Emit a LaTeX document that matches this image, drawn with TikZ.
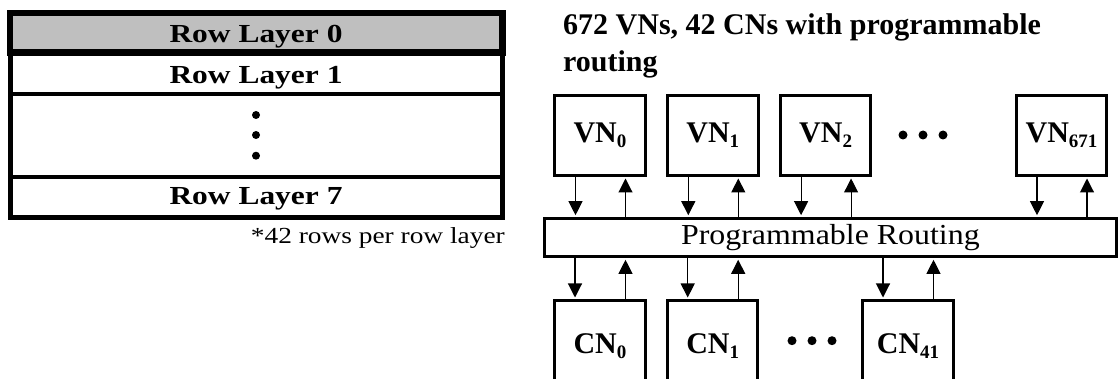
\documentclass[tikz,border=0pt]{standalone}
\usepackage{fontspec}
\setmainfont{Liberation Serif}
\usetikzlibrary{arrows.meta,calc}

% lowered index digits for node labels
\newcommand{\nsub}[1]{\raisebox{-5pt}{\fontsize{19}{19}\selectfont #1}}

\begin{document}
\begin{tikzpicture}[x=1pt,y=-1pt,
  box/.style={draw,line width=3pt,minimum width=90.4pt,inner sep=0pt,
    font=\fontsize{30}{30}\selectfont\bfseries},
  vnbox/.style={box,minimum height=80pt},
  cnbox/.style={box,minimum height=91pt},
  arr/.style={line width=1.1pt,shorten >=1.5pt,-{Triangle[length=14pt,width=14pt]}},
  blob/.style={circle,fill,inner sep=0pt,minimum size=9pt},
  rowtxt/.style={inner sep=0pt,anchor=base,font=\fontsize{26}{26}\selectfont\bfseries},
]
\clip (0,0) rectangle (1120,379);

% ---- row-layer stack ----
\fill[gray!50] (10,13) rectangle (502.5,52.5);
\draw[line width=5pt] (10.8,13) rectangle (502.5,217.5);
\draw[line width=4pt] (10.8,94.5) -- (502.5,94.5);
\draw[line width=4pt] (10.8,177) -- (502.5,177);
\draw[line width=6.5pt] (10,13) rectangle (502.5,52.5);

\node[rowtxt] (r0) at (256,42.7) {\scalebox{1.21}[1]{Row Layer 0}};
\node[rowtxt] (r1) at (256,84) {\scalebox{1.21}[1]{Row Layer 1}};
\node[rowtxt] (r7) at (256,205) {\scalebox{1.21}[1]{Row Layer 7}};
\node[blob,minimum size=8pt] (rd1) at (256,115) {};
\node[blob,minimum size=8pt] (rd2) at (256,135) {};
\node[blob,minimum size=8pt] (rd3) at (256,155.7) {};

\node[anchor=base east,inner sep=0pt,font=\fontsize{23}{23}\selectfont] (note)
  at (505,243.3) {\scalebox{1.19}[1]{*42 rows per row layer}};

% ---- routing network ----
\node[anchor=base west,inner sep=0pt,font=\fontsize{30}{30}\selectfont\bfseries] (t1)
  at (563,35) {672 VNs, 42 CNs with programmable};
\node[anchor=base west,inner sep=0pt,font=\fontsize{30}{30}\selectfont\bfseries] (t2)
  at (563,71.7) {routing};

\node[vnbox] (vn0)   at (600,135.5)   {VN\nsub{0}};
\node[vnbox] (vn1)   at (712.8,135.5) {VN\nsub{1}};
\node[vnbox] (vn2)   at (825.6,135.5) {VN\nsub{2}};
\node[vnbox] (vn671) at (1061.5,135.5) {VN\nsub{671}};
\node[blob] (vd1) at (903,135) {};
\node[blob] (vd2) at (923,135) {};
\node[blob] (vd3) at (943,135) {};

\node[draw,line width=3pt,minimum width=571.8pt,minimum height=38.6pt,inner sep=0pt,
  font=\fontsize{29}{29}\selectfont] (bar) at (830.4,237.5)
  {\raisebox{-3pt}{\scalebox{1.1}[1]{Programmable Routing}}};

\node[cnbox] (cn0)  at (600,346)   {CN\nsub{0}};
\node[cnbox] (cn1)  at (712.7,346) {CN\nsub{1}};
\node[cnbox] (cn41) at (908,346)   {CN\nsub{41}};
\node[blob] (cd1) at (792,340.7) {};
\node[blob] (cd2) at (812,340.7) {};
\node[blob] (cd3) at (832,340.7) {};

% links between node boxes and the routing bar
\foreach \n in {vn0,vn1,vn2,vn671}{
  \coordinate (d) at ($(\n.south)+(-24.5,0)$);
  \coordinate (u) at ($(\n.south)+(25.5,0)$);
  \draw[arr] (d) -- (d |- bar.north);
  \draw[arr] (u |- bar.north) -- (u);
}
\foreach \n in {cn0,cn1,cn41}{
  \coordinate (d) at ($(\n.north)+(-25,0)$);
  \coordinate (u) at ($(\n.north)+(25.5,0)$);
  \draw[arr] (d |- bar.south) -- (d);
  \draw[arr] (u) -- (u |- bar.south);
}
\end{tikzpicture}
\end{document}
